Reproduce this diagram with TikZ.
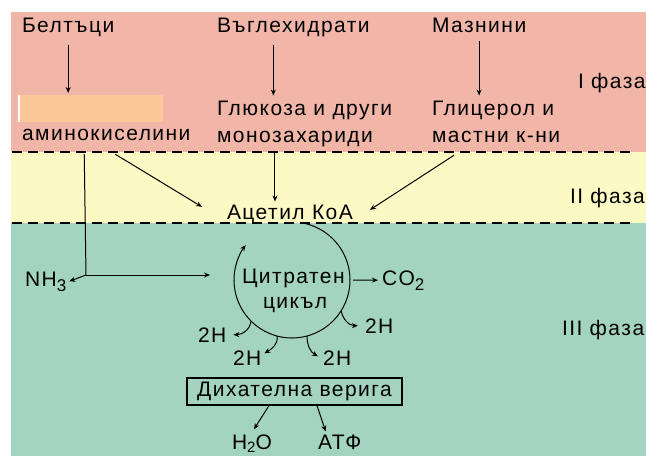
\documentclass[tikz,border=0pt]{standalone}
\usepackage{fontspec}
\setmainfont{Liberation Sans}[LetterSpace=7]
\usetikzlibrary{arrows.meta}
\definecolor{pinkbg}{HTML}{F2B6A8}
\definecolor{yelbg}{HTML}{FCF9C4}
\definecolor{grnbg}{HTML}{A3D4C1}
\definecolor{peach}{HTML}{FCC898}
\newcommand{\lowsub}[1]{\raisebox{-5pt}{\fontsize{17}{17}\selectfont #1}}
\newcommand{\lowsubb}[1]{\raisebox{-3pt}{\fontsize{15}{15}\selectfont #1}}
\begin{document}
\begin{tikzpicture}[x=1pt,y=-1pt,
  lbl/.style={anchor=base west, inner sep=0pt, outer sep=0pt, font=\fontsize{21}{25}\selectfont},
  arr/.style={-{Stealth[length=6pt,width=5pt]}, line width=1pt},
  plain/.style={line width=1pt},
  sep/.style={dash pattern=on 10pt off 6pt, line width=1.5pt},
  respbox/.style={draw, line width=1.2pt, minimum width=215pt, minimum height=27pt, inner sep=0pt, font=\fontsize{21}{25}\selectfont}]
\useasboundingbox (0,0) rectangle (646,456);
\fill[white] (0,0) rectangle (646,456);
% phase bands
\fill[pinkbg] (11,12) rectangle (646,152);
\fill[yelbg] (11,152) rectangle (646,223);
\fill[grnbg] (11,223) rectangle (646,456);
\draw[sep] (12,152) -- (634,152);
\draw[sep] (12,223) -- (636,223);
% placeholder box
\fill[white] (18,95) rectangle (20,122);
\node[fill=peach, inner sep=0pt, minimum width=143pt, minimum height=27pt, anchor=north west] (orng) at (20,95) {};
% texts
\node[lbl] (belt) at (22,32) {Белтъци};
\node[lbl] (carb) at (217,32) {Въглехидрати};
\node[lbl] (fat) at (432,32) {Мазнини};
\node[lbl] (glu) at (217,115) {Глюкоза и други};
\node[lbl] (mono) at (217,142) {монозахариди};
\node[lbl] (gly) at (432,115) {Глицерол и};
\node[lbl] (fatac) at (432,142) {мастни к-ни};
\node[lbl] (amino) at (22,140) {аминокиселини};
\node[lbl] (ph1) at (578,88) {I фаза};
\node[lbl] (ph2) at (570,203) {II фаза};
\node[lbl] (ph3) at (562,335) {III фаза};
\node[lbl] (acet) at (227,219) {Ацетил КоА};
\node[circle, minimum size=116pt, inner sep=0pt, outer sep=0pt] (cyc) at (292,280) {};
\node[lbl] (cit1) at (242,283) {Цитратен};
\node[lbl] (cit2) at (263,308) {цикъл};
\node[lbl] (co2) at (382,285) {CO\lowsub{2}};
\node[lbl] (nh3) at (25,286) {NH\lowsub{3}};
\node[lbl] (h2R) at (365,333) {2H};
\node[lbl] (h2L) at (198,342) {2H};
\node[lbl] (h2BL) at (233,365) {2H};
\node[lbl] (h2BR) at (323,365) {2H};
\node[respbox] (resp) at (294.5,391.5) {Дихателна верига};
\node[lbl] (h2o) at (232,449) {H\lowsubb{2}O};
\node[lbl] (atp) at (318,449) {АТФ};
% phase I arrows
\draw[arr] ([yshift=-9pt]belt.south) -- ([yshift=2pt]belt.south |- orng.north);
\draw[arr] ([xshift=-20pt,yshift=-9pt]carb.south) -- ([xshift=-20pt,yshift=5pt]carb.south |- glu.north);
\draw[arr] ([yshift=-9pt]fat.south) -- ([yshift=5pt]fat.south |- gly.north);
% phase II arrows
\draw[arr] ([xshift=9pt,yshift=-14pt]amino.south) -- ([xshift=-25pt,yshift=7pt]acet.west);
\draw[arr] ([xshift=-20pt,yshift=-6pt]mono.south) -- ([xshift=-20pt,yshift=3pt]mono.south |- acet.north);
\draw[arr] ([xshift=-42pt,yshift=-13pt]fatac.south) -- ([xshift=17pt,yshift=4pt]acet.east);
% amino acids to cycle
\coordinate (jn) at (86,275);
\draw[plain] ([xshift=-22pt,yshift=-14pt]amino.south) -- (jn);
\draw[arr] (jn) -- ([xshift=3pt]nh3.east);
\draw[arr] (jn) -- ([xshift=-24pt]cyc.west |- jn);
% citrate cycle
\draw[arr] (cyc.79) arc[start angle=79, end angle=-217, radius=58pt];
\draw[arr] ([xshift=3pt]cyc.east) -- ([xshift=-4pt]co2.west);
\draw[arr] (cyc.-32) to[out=-80, in=180] ([xshift=-7pt]h2R.west);
\draw[arr] (cyc.225) to[out=-95, in=0] ([xshift=7pt]h2L.east);
\draw[arr] (cyc.255) to[out=-80, in=30] ([xshift=3pt,yshift=-3pt]h2BL.north east);
\draw[arr] (cyc.-75) to[out=-90, in=150] ([xshift=-5pt,yshift=-6pt]h2BR.north west);
% respiratory chain
\draw[arr] ([xshift=-25.5pt]resp.south) -- ([xshift=2pt,yshift=5pt]h2o.north);
\draw[arr] ([xshift=22.5pt]resp.south) -- ([xshift=-14pt,yshift=3pt]atp.north);
\end{tikzpicture}
\end{document}
